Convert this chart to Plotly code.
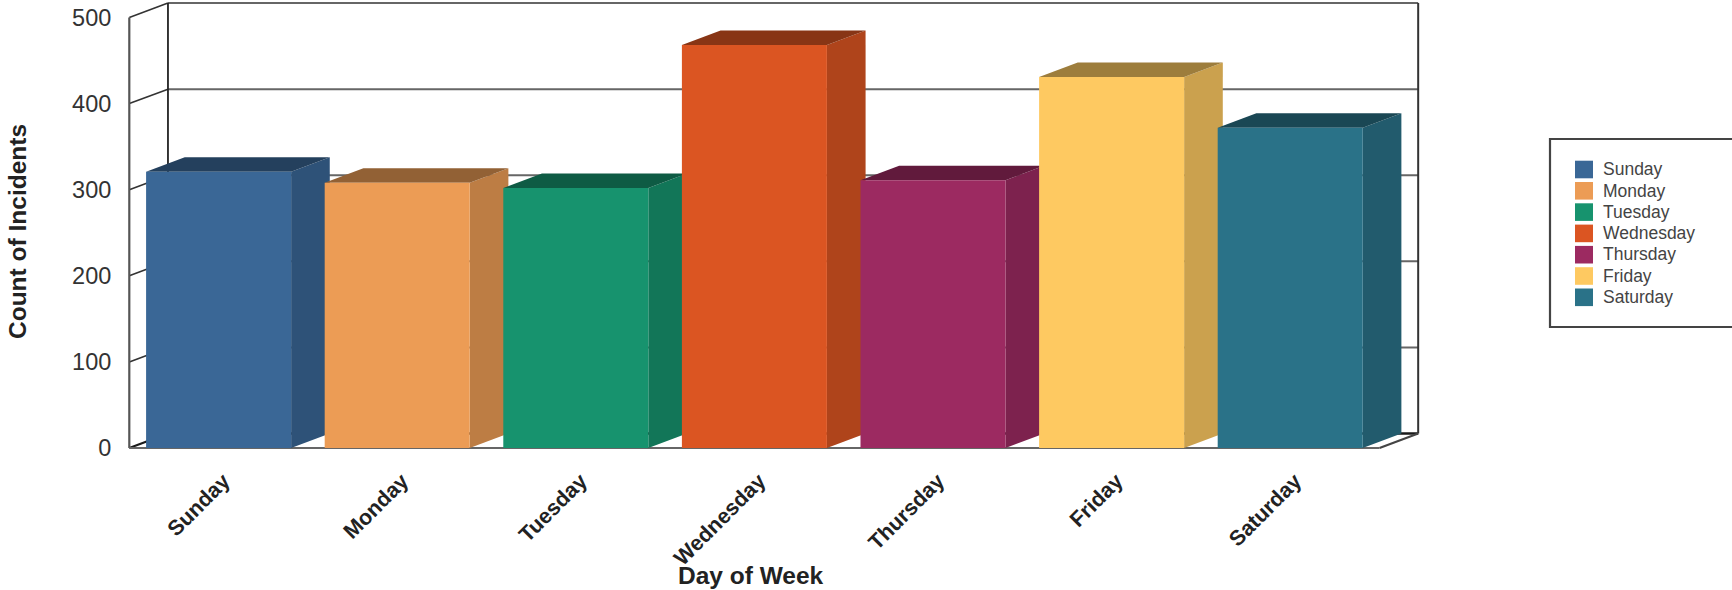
import plotly.graph_objects as go

DAYS = ["Sunday", "Monday", "Tuesday", "Wednesday", "Thursday", "Friday", "Saturday"]
INCIDENTS = [321, 308, 302, 468, 311, 431, 372]
COLORS = ["#3A6796", "#EC9C55", "#17936E", "#DB5522", "#9C2A61", "#FEC961", "#2A7288"]
Y_TICKS = [0, 100, 200, 300, 400, 500]

WIDTH, HEIGHT = 1732, 590
FONT = "Liberation Sans"
BAR_WIDTH = 0.812
DEPTH_X = 0.2165     # oblique depth of the box, in category units
DEPTH_Y = 16.8       # oblique depth of the box, in incident units


def shade(color, factor):
    r, g, b = (int(color[i:i + 2], 16) for i in (1, 3, 5))
    return f"rgb({r * factor:.0f},{g * factor:.0f},{b * factor:.0f})"


def wall_line(xs, ys, color, width, z=0):
    return go.Scatter(x=xs, y=ys, mode="lines", line=dict(color=color, width=width),
                      hoverinfo="skip", showlegend=False, zorder=z)


fig = go.Figure()

left, right = -0.5, len(DAYS) - 0.5
top = Y_TICKS[-1]

# back wall: gridlines with their diagonals to the front axis
for v in Y_TICKS:
    fig.add_trace(wall_line([left + DEPTH_X, right + DEPTH_X], [v + DEPTH_Y] * 2,
                            "#1a1a1a" if v == 0 else "#666666", 2.4 if v == 0 else 2))
    fig.add_trace(wall_line([left, left + DEPTH_X], [v, v + DEPTH_Y],
                            "#1a1a1a" if v == 0 else "#333333", 2.2 if v == 0 else 1.6))
fig.add_trace(wall_line([left + DEPTH_X] * 2, [DEPTH_Y, top + DEPTH_Y], "#222222", 1.8))
fig.add_trace(wall_line([right + DEPTH_X] * 2, [DEPTH_Y, top + DEPTH_Y], "#333333", 2))
fig.add_trace(wall_line([left, left], [0, top], "#555555", 2.2))
fig.add_trace(wall_line([right, right + DEPTH_X], [0, DEPTH_Y], "#444444", 2.2))
fig.add_trace(wall_line([left, right], [0, 0], "#666666", 2.2))

# boxes are painted left to right, so each front covers the previous box's side
half = BAR_WIDTH / 2
for i, (day, value, color) in enumerate(zip(DAYS, INCIDENTS, COLORS)):
    z = 1 + i * 2
    x0, x1 = i - half, i + half
    fig.add_trace(go.Scatter(
        x=[x1, x1 + DEPTH_X, x1 + DEPTH_X, x1, x1],
        y=[0, DEPTH_Y, value + DEPTH_Y, value, 0],
        mode="lines", fill="toself", fillcolor=shade(color, 0.8), line=dict(width=0),
        hoverinfo="skip", showlegend=False, zorder=z))
    fig.add_trace(go.Scatter(
        x=[x0, x0 + DEPTH_X, x1 + DEPTH_X, x1, x0],
        y=[value, value + DEPTH_Y, value + DEPTH_Y, value, value],
        mode="lines", fill="toself", fillcolor=shade(color, 0.62), line=dict(width=0),
        hoverinfo="skip", showlegend=False, zorder=z))
    fig.add_trace(go.Bar(x=[i], y=[value], width=BAR_WIDTH, name=day,
                         marker=dict(color=color, line=dict(width=0)),
                         showlegend=False, zorder=z + 1))


def px_x(p):
    return p / WIDTH


def px_y(p):
    return 1 - p / HEIGHT


# key box on the right, running off the page edge
shapes = [dict(type="rect", xref="paper", yref="paper",
               x0=px_x(1550), x1=px_x(1745), y0=px_y(327), y1=px_y(139),
               line=dict(color="#444444", width=2.2), fillcolor="white")]
annotations = []
for i, (day, color) in enumerate(zip(DAYS, COLORS)):
    y_top = 160.7 + i * 21.3
    shapes.append(dict(type="rect", xref="paper", yref="paper",
                       x0=px_x(1575), x1=px_x(1593), y0=px_y(y_top), y1=px_y(y_top + 17.6),
                       line=dict(width=0), fillcolor=color))
    annotations.append(dict(text=day, xref="paper", yref="paper", showarrow=False,
                            x=px_x(1601), y=px_y(y_top + 8.6), xanchor="left", yanchor="middle",
                            font=dict(family=FONT, size=17.5, color="#444444")))

# the horizontal title sits flush with the page bottom so it reserves no margin
annotations.append(dict(text="<b>Day of Week</b>", xref="paper", yref="paper", showarrow=False,
                        x=px_x(751), y=0, xanchor="center", yanchor="bottom", borderpad=0,
                        font=dict(family=FONT, size=24.5, color="#222222")))
annotations.append(dict(text="<b>Count of Incidents</b>", xref="paper", yref="paper", showarrow=False,
                        x=px_x(17), y=px_y(232), xanchor="center", yanchor="middle", textangle=-90,
                        font=dict(family=FONT, size=24.5, color="#222222")))

fig.update_layout(
    width=WIDTH, height=HEIGHT, autosize=False,
    margin=dict(l=0, r=0, t=0, b=0),
    paper_bgcolor="white", plot_bgcolor="white",
    barmode="overlay", showlegend=False,
    shapes=shapes, annotations=annotations,
    xaxis=dict(domain=[px_x(128), px_x(1420)], range=[-0.5073, 6.7267], automargin=False,
               tickmode="array", tickvals=list(range(len(DAYS))), ticktext=DAYS,
               tickangle=-45, ticks="outside", ticklen=9, tickcolor="rgba(0,0,0,0)",
               ticklabelshift=5,
               tickfont=dict(family=FONT, size=21.5, color="#222222", weight="bold"),
               showgrid=False, zeroline=False, showline=False),
    yaxis=dict(domain=[px_y(450), px_y(2)], range=[-2.3, 518], automargin=False,
               tickmode="array", tickvals=Y_TICKS, ticks="outside", ticklen=11,
               tickcolor="rgba(0,0,0,0)",
               tickfont=dict(family=FONT, size=23.5, color="#333333"),
               showgrid=False, zeroline=False, showline=False),
)

fig.write_html("out.html")
